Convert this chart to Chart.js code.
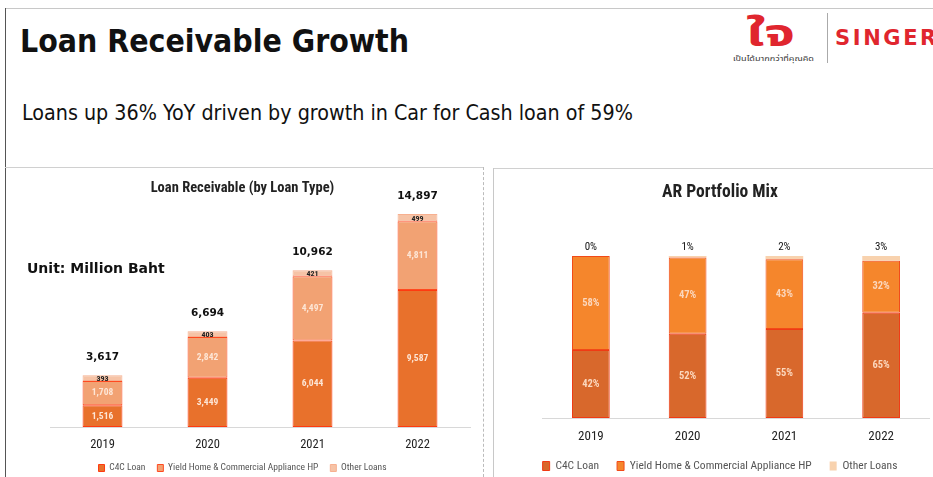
<!DOCTYPE html>
<html>
<head>
<meta charset="utf-8">
<script src="https://cdn.jsdelivr.net/npm/chart.js@4.4.1/dist/chart.umd.min.js"></script>
<style>
  html, body { margin: 0; padding: 0; background: #fff; }
  body { width: 933px; height: 477px; position: relative; overflow: hidden; font-family: "DejaVu Sans", sans-serif; }
  .frame-top { position: absolute; left: 5px; top: 8px; width: 928px; height: 1px; background: #c8c8c8; }
  .frame-left { position: absolute; left: 5px; top: 8px; width: 1px; height: 469px; background: #555; }
  .titulo { position: absolute; left: 20px; top: 23px; font-size: 31.7px; font-weight: bold; color: #111; font-family: "DejaVu Sans Condensed", "DejaVu Sans", sans-serif; }
  .subtitulo { position: absolute; left: 22px; top: 100px; font-size: 21.3px; color: #111; font-family: "DejaVu Sans Condensed", "DejaVu Sans", sans-serif; }
  .logo-jai { position: absolute; left: 746px; top: 6px; font-size: 38px; font-weight: bold; color: #e0262e; font-family: "Noto Sans Thai", "Noto Sans", "DejaVu Sans", sans-serif; transform: scale(1.45, 1); transform-origin: left top; }
  .logo-tag { position: absolute; left: 733px; top: 54px; font-size: 7px; color: #333; font-family: "Noto Sans Thai", "Noto Sans", sans-serif; transform: scale(1.3, 1); transform-origin: left top; }
  .logo-sep { position: absolute; left: 827px; top: 13px; width: 1px; height: 50px; background: #aaa; }
  .singer { position: absolute; left: 835px; top: 26px; font-size: 21px; font-weight: bold; color: #e0262e; letter-spacing: 2.6px; white-space: nowrap; }
  .painel-esq { position: absolute; left: 5px; top: 167px; width: 478px; height: 1px; background: #d0d0d0; }
  .painel-esq-dir { position: absolute; left: 483px; top: 167px; width: 0; height: 310px; border-left: 1px dashed #bbb; }
  .painel-dir { position: absolute; left: 493px; top: 168px; width: 440px; height: 1px; background: #d0d0d0; }
  .painel-dir-esq { position: absolute; left: 493px; top: 168px; width: 1px; height: 309px; background: #c8c8c8; }
  .unidade { position: absolute; left: 27px; top: 260px; font-size: 14px; font-weight: bold; color: #111; }
  #graficoEmprestimos { position: absolute; left: 5px; top: 168px; }
  #graficoCarteira { position: absolute; left: 493px; top: 168px; }
</style>
</head>
<body>
<div class="frame-top"></div>
<div class="frame-left"></div>
<div class="titulo">Loan Receivable Growth</div>
<div class="logo-jai">ใจ</div>
<div class="logo-tag">เป็นได้มากกว่าที่คุณคิด</div>
<div class="logo-sep"></div>
<div class="singer">SINGER</div>
<div class="subtitulo">Loans up 36% YoY driven by growth in Car for Cash loan of 59%</div>
<div class="painel-esq"></div>
<div class="painel-esq-dir"></div>
<div class="painel-dir"></div>
<div class="painel-dir-esq"></div>
<canvas id="graficoEmprestimos" width="478" height="320" style="width:478px;height:320px"></canvas>
<canvas id="graficoCarteira" width="440" height="320" style="width:440px;height:320px"></canvas>
<div class="unidade">Unit: Million Baht</div>

<script>
// Dados dos gráficos
const anos = ['2019', '2020', '2021', '2022'];
const tiposEmprestimo = ['C4C Loan', 'Yield Home & Commercial Appliance HP', 'Other Loans'];

// Loan Receivable (milhões de Baht)
const c4cLoan = [1516, 3449, 6044, 9587];
const yieldHomeHP = [1708, 2842, 4497, 4811];
const outrosEmprestimos = [393, 403, 421, 499];
const totais = [3617, 6694, 10962, 14897];

// AR Portfolio Mix (%)
const mixC4C = [42, 52, 55, 65];
const mixYield = [58, 47, 43, 32];
const mixOutros = [0, 1, 2, 3];

const fonteEstreita = '"Liberation Sans Narrow", "Roboto Condensed", "Open Sans", sans-serif';

function formatarNumero(v) {
    return v.toLocaleString('en-US');
}

// Plugin para escrever os valores nas barras
const rotulosBarras = {
    id: 'rotulosBarras',
    afterDatasetsDraw(chart, args, opts) {
        const ctx = chart.ctx;
        ctx.save();
        ctx.textAlign = 'center';
        ctx.textBaseline = 'middle';
        chart.data.datasets.forEach((ds, i) => {
            const meta = chart.getDatasetMeta(i);
            meta.data.forEach((barra, j) => {
                const texto = opts.formato(ds.data[j]);
                if (i < 2) {
                    ctx.font = opts.fonteInterna;
                    ctx.fillStyle = opts.corInterna;
                    ctx.fillText(texto, barra.x, (barra.y + barra.base) / 2);
                } else if (opts.outrosDentro) {
                    ctx.font = opts.fonteOutros;
                    ctx.fillStyle = '#222';
                    ctx.fillText(texto, barra.x, (barra.y + barra.base) / 2 + 1);
                } else {
                    ctx.font = opts.fonteOutros;
                    ctx.fillStyle = '#111';
                    ctx.fillText(texto, barra.x, barra.y - opts.afastamento);
                }
            });
        });
        if (opts.totais) {
            const meta = chart.getDatasetMeta(chart.data.datasets.length - 1);
            ctx.font = opts.fonteTotal;
            ctx.fillStyle = '#111';
            meta.data.forEach((barra, j) => {
                ctx.fillText(formatarNumero(opts.totais[j]), barra.x, barra.y - opts.afastamento);
            });
        }
        ctx.restore();
    }
};

// eixo y invisível, só reserva espaço à esquerda
function eixoYOculto(max, largura) {
    return {
        stacked: true, min: 0, max: max,
        ticks: { display: false },
        grid: { display: false, drawTicks: false },
        border: { display: false },
        afterFit: s => { s.width = largura; }
    };
}

function configurarGraficoEmprestimos() {
    const canvas = document.getElementById('graficoEmprestimos');
    new Chart(canvas, {
        type: 'bar',
        data: {
            labels: anos,
            datasets: [
                { label: tiposEmprestimo[0], data: c4cLoan, backgroundColor: '#e8712c', borderColor: '#ff3a10', borderWidth: 1, borderSkipped: false },
                { label: tiposEmprestimo[1], data: yieldHomeHP, backgroundColor: '#f2a273', borderColor: '#ff4a20', borderWidth: 1, borderSkipped: false },
                { label: tiposEmprestimo[2], data: outrosEmprestimos, backgroundColor: '#f6c3a6', borderColor: '#f7b090', borderWidth: 1, borderSkipped: false }
            ]
        },
        options: {
            responsive: false,
            animation: false,
            layout: { padding: { left: 10, right: 13, top: 0, bottom: 5.25 } },
            datasets: { bar: { barPercentage: 0.38, categoryPercentage: 1 } },
            scales: {
                x: {
                    stacked: true,
                    grid: { display: false, drawTicks: false },
                    border: { display: true, color: '#d8d8d8' },
                    ticks: { color: '#222', padding: 10.5, font: { family: fonteEstreita, size: 12.5 } },
                    afterFit: s => { s.height = 24.25; }
                },
                y: eixoYOculto(15666, 35)
            },
            plugins: {
                title: {
                    display: true,
                    text: 'Loan Receivable (by Loan Type)',
                    color: '#222',
                    font: { family: fonteEstreita, size: 14.5, weight: 'bold' },
                    padding: { top: 11.3, bottom: 6.3 }
                },
                legend: {
                    position: 'bottom',
                    labels: { boxWidth: 6, boxHeight: 7, padding: 12, color: '#555', font: { family: fonteEstreita, size: 9.5 } }
                },
                tooltip: { enabled: false },
                rotulosBarras: {
                    formato: formatarNumero,
                    fonteInterna: 'bold 9.5px ' + fonteEstreita,
                    fonteOutros: 'bold 8px ' + fonteEstreita,
                    fonteTotal: 'bold 10.5px "DejaVu Sans", sans-serif',
                    corInterna: '#fde6d6',
                    outrosDentro: true,
                    totais: totais,
                    afastamento: 18
                }
            }
        },
        plugins: [rotulosBarras]
    });
}

function configurarGraficoCarteira() {
    const canvas = document.getElementById('graficoCarteira');
    new Chart(canvas, {
        type: 'bar',
        data: {
            labels: anos,
            datasets: [
                { label: tiposEmprestimo[0], data: mixC4C, backgroundColor: '#d8682c', borderColor: '#f03a14', borderWidth: 1, borderSkipped: false },
                { label: tiposEmprestimo[1], data: mixYield, backgroundColor: '#f5862c', borderColor: '#f24a18', borderWidth: 1, borderSkipped: false },
                { label: tiposEmprestimo[2], data: mixOutros, backgroundColor: '#f8d2ae', borderColor: '#f8d2ae', borderWidth: 0, borderSkipped: false }
            ]
        },
        options: {
            responsive: false,
            animation: false,
            layout: { padding: { left: 17.5, right: 3.5, top: 0, bottom: 6.25 } },
            datasets: { bar: { barPercentage: 0.39, categoryPercentage: 1 } },
            scales: {
                x: {
                    stacked: true,
                    grid: { display: false, drawTicks: false },
                    border: { display: true, color: '#d8d8d8' },
                    ticks: { color: '#222', padding: 11.2, font: { family: fonteEstreita, size: 13 } },
                    afterFit: s => { s.height = 24.25; }
                },
                y: eixoYOculto(130, 32)
            },
            plugins: {
                title: {
                    display: true,
                    text: 'AR Portfolio Mix',
                    color: '#222',
                    font: { family: fonteEstreita, size: 17.5, weight: 'bold' },
                    padding: { top: 14.5, bottom: 3.9 }
                },
                legend: {
                    position: 'bottom',
                    labels: { boxWidth: 7, boxHeight: 9, padding: 18, color: '#555', font: { family: fonteEstreita, size: 11.5 } }
                },
                tooltip: { enabled: false },
                rotulosBarras: {
                    formato: v => v + '%',
                    fonteInterna: 'bold 10.5px ' + fonteEstreita,
                    fonteOutros: '11px ' + fonteEstreita,
                    corInterna: '#fbd7bd',
                    outrosDentro: false,
                    totais: null,
                    afastamento: 9
                }
            }
        },
        plugins: [rotulosBarras]
    });
}

document.addEventListener('DOMContentLoaded', function () {
    configurarGraficoEmprestimos();
    configurarGraficoCarteira();
});
</script>
</body>
</html>
